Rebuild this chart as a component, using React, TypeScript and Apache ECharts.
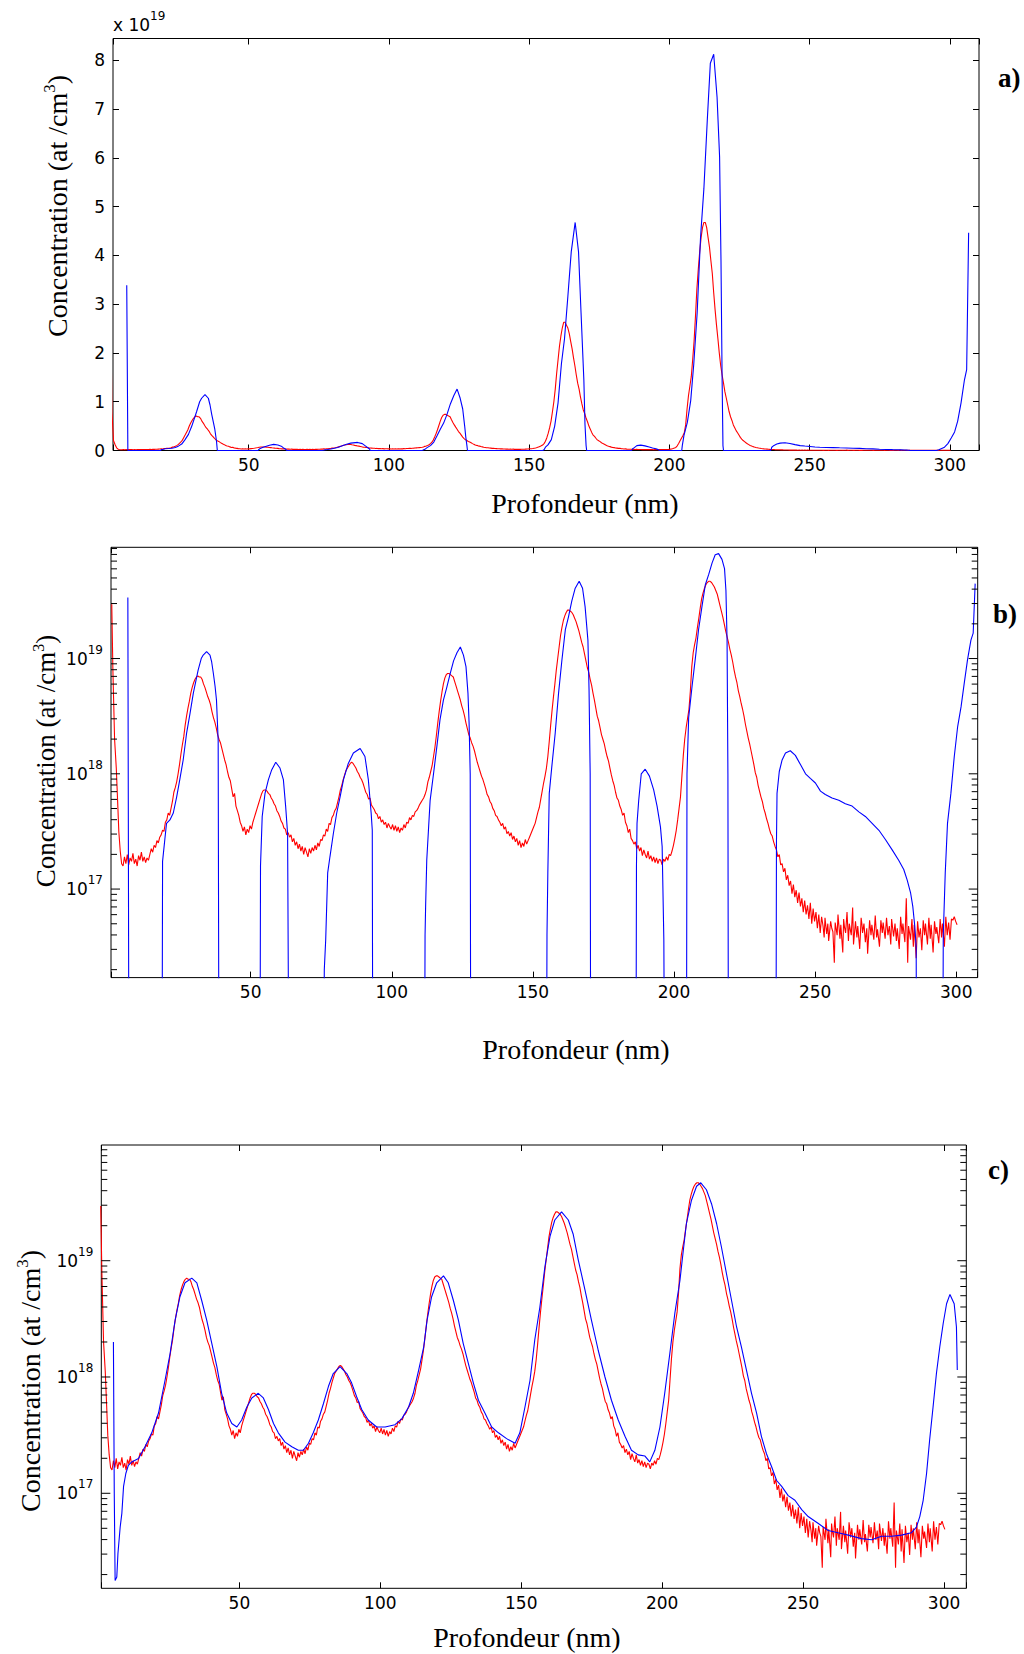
import React, { useEffect, useRef } from 'react';
import * as echarts from 'echarts';

// ---------------- DATA (depth in nm, log10 of concentration in at/cm3) ----------------
// Measured SIMS profile (red) — shared by panels a, b, c
const redProfile: number[][] = [
  [0.8,19.47],[1.2,18.90],[1.8,18.30],[2.4,18.05],[2.9,17.75],[3.3,17.50],[3.8,17.33],[4.3,17.22],
  [4.8,17.20],[5.3,17.28],[5.8,17.22],[6.3,17.30],[6.8,17.21],[7.3,17.27],[7.8,17.24],[8.3,17.31],[8.8,17.22],[9.3,17.26],[9.8,17.20],[10.3,17.29],[10.8,17.25],[11.3,17.32],[11.8,17.24],[12.3,17.28],[12.8,17.23],[13.3,17.27],[13.8,17.25],[14.3,17.30],[14.8,17.35],[15.3,17.32],[15.8,17.38],[16.3,17.36],[16.8,17.42],[17.3,17.40],[17.8,17.45],[18.3,17.47],[18.8,17.51],[19.3,17.50],[19.8,17.58],[20.3,17.60],[20.8,17.66],[21.3,17.64],[21.8,17.70],[22.3,17.76],[22.8,17.84],[23.3,17.88],[23.8,17.93],[24.3,18.00],[24.8,18.08],[25.3,18.17],[25.8,18.25],[26.3,18.32],[26.8,18.42],[27.3,18.50],[27.8,18.57],[28.3,18.63],[28.8,18.70],[29.3,18.75],[29.8,18.79],[30.3,18.82],[30.8,18.84],[31.3,18.85],[31.8,18.84],[32.3,18.84],[32.8,18.82],[33.3,18.78],[33.8,18.75],[34.3,18.71],[34.8,18.67],[35.3,18.64],[35.8,18.60],[36.3,18.54],[36.8,18.49],[37.3,18.45],[37.8,18.40],[38.3,18.34],[38.8,18.30],[39.3,18.27],[39.8,18.22],[40.3,18.17],[40.8,18.12],[41.3,18.08],[41.8,18.02],[42.3,17.97],[42.8,17.94],[43.3,17.87],[43.8,17.80],[44.3,17.83],[44.8,17.72],[45.3,17.68],[45.8,17.64],[46.3,17.58],[46.8,17.55],[47.3,17.50],[47.8,17.54],[48.3,17.47],[48.8,17.52],[49.3,17.49],[49.8,17.55],[50.3,17.52],[50.8,17.58],[51.3,17.62],[51.8,17.66],[52.3,17.70],[52.8,17.74],[53.3,17.78],[53.8,17.82],[54.3,17.85],[54.8,17.86],[55.3,17.86],[55.8,17.85],[56.3,17.83],[56.8,17.82],[57.3,17.79],[57.8,17.77],[58.3,17.74],[58.8,17.72],[59.3,17.68],[59.8,17.66],[60.3,17.63],[60.8,17.59],[61.3,17.57],[61.8,17.53],[62.3,17.52],[62.8,17.47],[63.3,17.49],[63.8,17.45],[64.3,17.47],[64.8,17.41],[65.3,17.44],[65.8,17.38],[66.3,17.41],[66.8,17.35],[67.3,17.39],[67.8,17.33],[68.3,17.37],[68.8,17.30],[69.3,17.36],[69.8,17.32],[70.3,17.28],[70.8,17.35],[71.3,17.31],[71.8,17.36],[72.3,17.33],[72.8,17.38],[73.3,17.34],[73.8,17.40],[74.3,17.37],[74.8,17.43],[75.3,17.42],[75.8,17.47],[76.3,17.46],[76.8,17.52],[77.3,17.50],[77.8,17.57],[78.3,17.56],[78.8,17.62],[79.3,17.64],[79.8,17.68],[80.3,17.70],[80.8,17.75],[81.3,17.80],[81.8,17.86],[82.3,17.90],[82.8,17.95],[83.3,17.99],[83.8,18.03],[84.3,18.05],[84.8,18.07],[85.3,18.09],[85.8,18.10],[86.3,18.09],[86.8,18.07],[87.3,18.05],[87.8,18.02],[88.3,18.00],[88.8,17.97],[89.3,17.95],[89.8,17.92],[90.3,17.88],[90.8,17.84],[91.3,17.82],[91.8,17.78],[92.3,17.79],[92.8,17.73],[93.3,17.71],[93.8,17.69],[94.3,17.66],[94.8,17.65],[95.3,17.61],[95.8,17.63],[96.3,17.58],[96.8,17.60],[97.3,17.56],[97.8,17.58],[98.3,17.53],[98.8,17.57],[99.3,17.54],[99.8,17.52],[100.3,17.56],[100.8,17.51],[101.3,17.55],[101.8,17.50],[102.3,17.54],[102.8,17.49],[103.3,17.53],[103.8,17.51],[104.3,17.56],[104.8,17.53],[105.3,17.58],[105.8,17.57],[106.3,17.62],[106.8,17.60],[107.3,17.64],[107.8,17.63],[108.3,17.67],[108.8,17.68],[109.3,17.70],[109.8,17.73],[110.3,17.75],[110.8,17.77],[111.3,17.79],[111.8,17.82],[112.3,17.86],[112.8,17.93],[113.3,17.97],[113.8,18.02],[114.3,18.07],[114.8,18.15],[115.3,18.23],[115.8,18.33],[116.3,18.44],[116.8,18.54],[117.3,18.63],[117.8,18.71],[118.3,18.78],[118.8,18.83],[119.3,18.86],[119.8,18.87],[120.3,18.87],[120.8,18.86],[121.3,18.85],[121.8,18.84],[122.3,18.80],[122.8,18.76],[123.3,18.72],[123.8,18.68],[124.3,18.64],[124.8,18.59],[125.3,18.55],[125.8,18.50],[126.3,18.44],[126.8,18.39],[127.3,18.34],[127.8,18.31],[128.3,18.27],[128.8,18.24],[129.3,18.20],[129.8,18.15],[130.3,18.10],[130.8,18.06],[131.3,18.02],[131.8,17.98],[132.3,17.95],[132.8,17.91],[133.3,17.87],[133.8,17.82],[134.3,17.80],[134.8,17.76],[135.3,17.74],[135.8,17.70],[136.3,17.68],[136.8,17.64],[137.3,17.63],[137.8,17.60],[138.3,17.58],[138.8,17.55],[139.3,17.57],[139.8,17.52],[140.3,17.54],[140.8,17.48],[141.3,17.50],[141.8,17.46],[142.3,17.49],[142.8,17.43],[143.3,17.46],[143.8,17.41],[144.3,17.44],[144.8,17.38],[145.3,17.42],[145.8,17.36],[146.3,17.40],[146.8,17.37],[147.3,17.43],[147.8,17.39],[148.3,17.42],[148.8,17.45],[149.3,17.48],[149.8,17.51],[150.3,17.54],[150.8,17.57],[151.3,17.62],[151.8,17.67],[152.3,17.71],[152.8,17.78],[153.3,17.85],[153.8,17.92],[154.3,17.98],[154.8,18.05],[155.3,18.15],[155.8,18.28],[156.3,18.42],[156.8,18.55],[157.3,18.67],[157.8,18.78],[158.3,18.90],[158.8,19.00],[159.3,19.10],[159.8,19.20],[160.3,19.27],[160.8,19.33],[161.3,19.37],[161.8,19.40],[162.3,19.42],[162.8,19.42],[163.3,19.41],[163.8,19.40],[164.3,19.38],[164.8,19.35],[165.3,19.32],[165.8,19.28],[166.3,19.24],[166.8,19.19],[167.3,19.14],[167.8,19.10],[168.3,19.04],[168.8,18.98],[169.3,18.92],[169.8,18.88],[170.3,18.82],[170.8,18.77],[171.3,18.70],[171.8,18.64],[172.3,18.57],[172.8,18.50],[173.3,18.46],[173.8,18.40],[174.3,18.34],[174.8,18.30],[175.3,18.26],[175.8,18.20],[176.3,18.15],[176.8,18.11],[177.3,18.05],[177.8,17.99],[178.3,17.94],[178.8,17.90],[179.3,17.84],[179.8,17.79],[180.3,17.77],[180.8,17.72],[181.3,17.69],[181.8,17.64],[182.3,17.66],[182.8,17.58],[183.3,17.55],[183.8,17.49],[184.3,17.52],[184.8,17.44],[185.3,17.42],[185.8,17.39],[186.3,17.41],[186.8,17.35],[187.3,17.38],[187.8,17.33],[188.3,17.36],[188.8,17.29],[189.3,17.34],[189.8,17.30],[190.3,17.27],[190.8,17.33],[191.3,17.26],[191.8,17.29],[192.3,17.24],[192.8,17.28],[193.3,17.23],[193.8,17.27],[194.3,17.22],[194.8,17.26],[195.3,17.25],[195.8,17.21],[196.3,17.26],[196.8,17.24],[197.3,17.28],[197.8,17.25],[198.3,17.30],[198.8,17.29],[199.3,17.33],[199.8,17.38],[200.3,17.44],[200.8,17.51],[201.3,17.60],[201.8,17.70],[202.3,17.80],[202.8,17.98],[203.3,18.16],[203.8,18.30],[204.3,18.40],[204.8,18.48],[205.3,18.56],[205.8,18.72],[206.3,18.93],[206.8,19.05],[207.3,19.12],[207.8,19.18],[208.3,19.27],[208.8,19.35],[209.3,19.44],[209.8,19.52],[210.3,19.57],[210.8,19.61],[211.3,19.64],[211.8,19.66],[212.3,19.67],[212.8,19.67],[213.3,19.66],[213.8,19.64],[214.3,19.62],[214.8,19.59],[215.3,19.56],[215.8,19.51],[216.3,19.46],[216.8,19.41],[217.3,19.36],[217.8,19.30],[218.3,19.24],[218.8,19.19],[219.3,19.14],[219.8,19.08],[220.3,19.03],[220.8,18.97],[221.3,18.90],[221.8,18.84],[222.3,18.79],[222.8,18.72],[223.3,18.67],[223.8,18.61],[224.3,18.56],[224.8,18.50],[225.3,18.43],[225.8,18.37],[226.3,18.31],[226.8,18.26],[227.3,18.20],[227.8,18.14],[228.3,18.08],[228.8,18.01],[229.3,17.97],[229.8,17.90],[230.3,17.85],[230.8,17.80],[231.3,17.76],[231.8,17.70],[232.3,17.66],[232.8,17.61],[233.3,17.57],[233.8,17.52],[234.3,17.48],[234.8,17.46],[235.3,17.41],[235.8,17.37],[236.3,17.34],[236.8,17.28],[237.3,17.30],[237.8,17.21],[238.3,17.22],[238.8,17.15],[239.3,17.18],[239.8,17.08],[240.3,17.12],[240.8,17.03],[241.3,17.07],[241.8,16.96],[242.3,17.04],[242.8,16.93],[243.3,16.99],[243.8,16.88],[244.3,16.97],[244.8,16.85],[245.3,16.92],[245.8,16.80],[246.3,16.90],[246.8,16.78],[247.3,16.86],[247.8,16.74],[248.3,16.88],[248.8,16.70],[249.3,16.83],[249.8,16.72],[250.3,16.80],[250.8,16.66],[251.3,16.78],[251.8,16.62],[252.3,16.76],
  [252.8,16.68],[253.2,16.58],[253.5,16.75],[254.1,16.61],[254.5,16.70],[254.8,16.55],[255.5,16.72],[255.9,16.66],[256.3,16.63],[256.8,16.36],[257.1,16.71],[257.8,16.60],[258.1,16.78],[258.8,16.57],[259.1,16.69],[259.8,16.45],[260.1,16.74],[260.4,16.67],[260.8,16.62],[261.3,16.80],[261.8,16.55],[262.1,16.70],[262.8,16.60],[263.3,16.84],[263.6,16.52],[264.3,16.72],[264.8,16.58],[265.1,16.68],[265.8,16.48],[266.3,16.75],[266.6,16.69],[266.8,16.62],[267.3,16.70],[267.8,16.54],[268.3,16.66],[268.6,16.44],[269.3,16.73],[269.8,16.60],[270.1,16.69],[270.8,16.56],[271.3,16.77],[271.8,16.58],[272.1,16.65],[272.8,16.50],[273.3,16.73],[273.8,16.62],[274.1,16.71],[274.8,16.57],[275.3,16.75],[275.6,16.66],[275.8,16.60],[276.3,16.68],[276.8,16.52],[277.1,16.74],[277.8,16.59],[278.3,16.70],[278.8,16.55],[279.1,16.66],[279.8,16.48],[280.3,16.76],[280.8,16.61],[281.1,16.70],[281.8,16.54],[282.3,16.92],[282.8,16.36],[283.1,16.68],[283.8,16.56],[284.3,16.74],[284.8,16.50],[285.1,16.69],[285.8,16.40],[286.3,16.72],[286.6,16.64],[286.8,16.58],[287.3,16.66],[287.8,16.47],[288.3,16.73],[288.8,16.60],[289.1,16.70],[289.8,16.52],[290.3,16.75],[290.8,16.57],[291.1,16.69],[291.8,16.45],[292.3,16.72],[292.8,16.61],[293.1,16.67],[293.8,16.53],[294.3,16.74],[294.8,16.58],[295.1,16.70],[295.8,16.50],[296.3,16.76],[296.8,16.60],[297.3,16.71],[297.8,16.56],[298.3,16.74],[298.8,16.73],[299.3,16.76],[299.8,16.72],[300.3,16.69],
];

// Deconvolved profile (blue, panels a and b); 15 = zero level (1e15, below the log axis)
const blueDeconvolved: number[][] = [
  [6.5,19.53],[6.9,15],[18.6,15],[18.8,17.24],[19.6,17.43],[20.2,17.57],[21.4,17.60],[22.6,17.66],[23.8,17.80],[24.9,17.95],[26.1,18.12],[27.3,18.35],[28.5,18.52],[29.7,18.70],[31.4,18.90],[32.5,19.00],[33.2,19.03],[34.4,19.06],[35.6,19.03],[36.2,18.97],[36.8,18.87],[37.4,18.76],[37.9,18.64],[38.5,18.29],[38.8,15],
  [53.3,15],[53.5,17.2],[54.1,17.63],[55.1,17.83],[56.3,17.95],[57.4,18.03],[58.9,18.10],[60.4,18.05],[61.6,17.95],[62.4,17.72],[63.1,17.48],[63.6,15],
  [75.9,15],[76.1,16.3],[76.6,16.56],[77.3,17.14],[78.1,17.28],[79.3,17.48],[80.5,17.66],[81.7,17.80],[82.9,17.95],[84.6,18.09],[86.4,18.18],[88.8,18.22],[90.5,18.15],[91.7,17.95],[92.7,17.66],[93.1,17.51],[93.3,15],
  [111.6,15],[111.8,16.6],[112.0,16.85],[112.4,17.25],[113.0,17.51],[113.6,17.77],[114.8,18.00],[116.0,18.24],[117.1,18.47],[118.3,18.64],[119.5,18.75],[120.7,18.87],[121.9,18.98],[123.1,19.05],[124.3,19.10],[125.4,19.03],[126.3,18.93],[127.0,18.70],[127.4,18.44],[127.8,18.00],[128.0,15],
  [154.8,15],[155.0,16.6],[155.3,17.14],[155.8,17.83],[156.7,18.06],[157.9,18.35],[159.1,18.70],[160.3,18.99],[161.5,19.25],[162.6,19.36],[163.8,19.50],[165.0,19.61],[166.4,19.67],[167.6,19.61],[168.5,19.45],[169.5,19.16],[169.9,18.73],[170.3,18.00],[170.5,15],
  [186.5,15],[186.7,17.2],[186.9,17.57],[187.5,17.77],[188.4,18.00],[189.8,18.04],[191.3,17.98],[192.8,17.86],[194.0,17.72],[195.2,17.54],[195.8,17.37],[196.4,16.56],[196.7,15],
  [204.4,15],[204.6,18.0],[205.2,18.49],[206.4,18.76],[207.6,19.01],[208.7,19.25],[209.9,19.45],[211.1,19.64],[212.3,19.73],[213.5,19.83],[214.6,19.90],[215.8,19.91],[217.0,19.86],[217.9,19.78],[218.4,19.59],[218.8,19.16],[219.1,18.00],[219.3,15],
  [236.1,15],[236.3,17.4],[236.5,17.83],[237.3,18.02],[238.3,18.12],[239.5,18.18],[241.2,18.20],[243.0,18.16],[244.8,18.08],[246.6,18.00],[248.3,17.96],[250.1,17.92],[251.9,17.85],[253.6,17.82],[256.0,17.79],[258.4,17.77],[260.7,17.74],[263.1,17.72],[265.5,17.67],[267.8,17.63],[270.2,17.57],[272.6,17.51],[274.9,17.43],[277.3,17.34],[279.6,17.25],[281.4,17.17],[282.6,17.08],[283.8,16.97],[284.6,16.85],[285.3,16.68],[285.8,16.50],[286.0,15],
  [295.2,15],[295.4,16.6],[296.1,17.14],[296.9,17.57],[298.1,17.83],[299.3,18.15],[300.5,18.41],[301.7,18.58],[302.8,18.78],[304.0,18.99],[305.2,19.16],[306.0,19.22],[306.7,19.65],
];

// Reconvolved profile (blue, panel c)
const blueReconvolved: number[][] = [
  [5.3,18.30],[5.6,17.0],[5.9,16.25],[6.5,16.28],[6.9,16.48],[7.7,16.71],[8.3,16.83],[8.9,17.06],[9.7,17.17],[10.6,17.24],[11.8,17.27],[14.2,17.30],[16.5,17.40],[18.9,17.52],[21.3,17.69],[23.6,17.97],[25.4,18.20],[27.2,18.49],[28.9,18.69],[30.7,18.81],[33.1,18.85],[34.9,18.81],[36.6,18.66],[38.4,18.49],[40.2,18.29],[42.0,18.09],[43.7,17.86],[45.5,17.69],[47.3,17.60],[49.1,17.57],[50.8,17.63],[52.6,17.74],[54.4,17.82],[56.7,17.86],[58.5,17.82],[60.3,17.72],[62.1,17.60],[63.8,17.52],[66.2,17.44],[68.6,17.40],[70.9,17.37],[72.7,17.37],[74.5,17.43],[76.2,17.52],[78.0,17.63],[79.8,17.77],[81.6,17.92],[83.3,18.03],[85.7,18.09],[88.1,18.03],[89.8,17.95],[91.6,17.83],[93.4,17.72],[95.7,17.63],[98.7,17.57],[101.7,17.57],[105.2,17.59],[107.6,17.64],[110.0,17.74],[111.7,17.86],[113.6,18.06],[115.4,18.26],[116.6,18.49],[118.2,18.69],[120.0,18.81],[122.4,18.87],[124.1,18.81],[125.9,18.66],[127.7,18.49],[129.4,18.29],[131.2,18.12],[133.0,17.95],[134.8,17.80],[137.1,17.69],[139.5,17.57],[141.9,17.52],[144.8,17.47],[147.8,17.43],[149.5,17.52],[151.3,17.74],[153.1,17.97],[154.8,18.32],[156.6,18.60],[158.4,18.95],[160.2,19.21],[161.9,19.35],[164.3,19.42],[166.7,19.35],[168.4,19.23],[170.2,19.01],[172.6,18.75],[174.9,18.49],[177.3,18.23],[179.7,18.00],[182.0,17.80],[184.4,17.63],[186.8,17.49],[189.1,17.37],[191.5,17.33],[193.9,17.32],[195.6,17.27],[197.4,17.37],[199.2,17.57],[200.9,17.86],[202.7,18.20],[204.5,18.55],[206.3,18.83],[207.5,19.09],[208.6,19.32],[210.4,19.52],[212.2,19.64],[213.7,19.67],[215.7,19.61],[217.5,19.49],[219.3,19.32],[221.0,19.12],[222.8,18.89],[224.6,18.66],[226.4,18.43],[228.1,18.26],[229.9,18.06],[231.7,17.86],[233.5,17.69],[235.2,17.49],[237.0,17.34],[238.8,17.23],[240.6,17.11],[242.4,17.06],[244.7,16.98],[247.1,16.94],[249.5,16.86],[251.8,16.80],[255.4,16.74],[258.9,16.68],[262.4,16.66],[266.0,16.64],[270.7,16.61],[274.3,16.60],[277.8,16.63],[281.4,16.63],[284.9,16.64],[288.4,16.66],[290.2,16.71],[291.4,16.80],[292.6,16.94],[293.8,17.17],[294.9,17.46],[296.1,17.74],[297.3,18.03],[298.5,18.26],[299.7,18.46],[300.9,18.63],[302.1,18.71],[303.6,18.63],[304.4,18.43],[304.7,18.06],
];

// Axis ranges and tick labels
const depthRangeA = [1.6, 310.4];
const depthRangeB = [0.53, 307.6];
const depthRangeC = [1.0, 307.9];
const concRangeA = [0, 8.45e19];
const logRangeB = [16.232, 19.965];
const logRangeC = [16.183, 19.995];
const depthTickLabels = [50, 100, 150, 200, 250, 300];
const linearTickLabels = [0, 1, 2, 3, 4, 5, 6, 7, 8];
const logLabelExponents = [17, 18, 19];
const logTickMantissas = [1, 2, 3, 4, 5, 6, 7, 8, 9];
const logTickDecades = [16, 17, 18, 19];

const panelTexts = ['a)', 'b)', 'c)'];
const xTitle = 'Profondeur (nm)';
const yTitle = 'Concentration (at /cm{s|3})';

// ---------------- STYLE ----------------
const SERIF = '"Liberation Serif", "Times New Roman", serif';
const SANS = '"DejaVu Sans", sans-serif';
const RED = '#ff0000';
const BLUE = '#0000ff';

const toConc = (pts: number[][]) => pts.map(([d, l]) => [d, Math.pow(10, l)]);

const depthFormatter = (v: number) =>
  depthTickLabels.some((t) => Math.abs(t - v) < 1e-6) ? String(Math.round(v)) : '';
const linearFormatter = (v: number) => {
  const n = v / 1e19;
  return linearTickLabels.some((t) => Math.abs(t - n) < 1e-6) ? String(Math.round(n)) : '';
};
const logFormatter = (v: number) => {
  const e = Math.log10(v);
  const r = Math.round(e);
  return Math.abs(e - r) < 1e-6 && logLabelExponents.includes(r) ? `{b|10}{s|${r}}` : '';
};

const tickLabelStyle = { fontFamily: SANS, fontSize: 17, color: '#000', fontWeight: 500 };
const supRich = {
  b: { fontFamily: SANS, fontSize: 17, color: '#000' },
  s: { fontFamily: SANS, fontSize: 12, color: '#000', padding: [0, 0, 18, 0] },
};

function xAxesFor(grid: number, range: number[]) {
  const base = {
    gridIndex: grid,
    type: 'value',
    min: range[0],
    max: range[1],
    splitLine: { show: false },
    axisLine: { show: false, onZero: false },
    axisTick: { show: true, inside: true, length: 6, lineStyle: { color: '#000', width: 1 } },
  };
  return [
    { ...base, position: 'bottom', axisLabel: { ...tickLabelStyle, margin: 6, formatter: depthFormatter } },
    { ...base, position: 'top', axisLabel: { show: false } },
  ];
}

function logTickSeries(xAxisIndex: number, yAxisIndex: number, xMin: number, logRange: number[]) {
  const data: number[][] = [];
  for (const e of logTickDecades) {
    for (const m of logTickMantissas) {
      const l = e + Math.log10(m);
      if (l >= logRange[0] && l <= logRange[1]) data.push([xMin, m * Math.pow(10, e), m === 1 ? 1 : 0]);
    }
  }
  return {
    type: 'custom',
    xAxisIndex,
    yAxisIndex,
    silent: true,
    clip: false,
    z: 5,
    data,
    renderItem: (params: any, api: any) => {
      const cs = params.coordSys;
      const y = api.coord([api.value(0), api.value(1)])[1];
      const len = api.value(2) ? 9 : 6;
      const st = { stroke: '#000', lineWidth: 1 };
      return {
        type: 'group',
        children: [
          { type: 'line', shape: { x1: cs.x, y1: y, x2: cs.x + len, y2: y }, style: st },
          { type: 'line', shape: { x1: cs.x + cs.width - len, y1: y, x2: cs.x + cs.width, y2: y }, style: st },
        ],
      };
    },
  };
}

function lineSeries(name: string, data: number[][], color: string, xi: number, yi: number, z: number) {
  return {
    name,
    type: 'line',
    xAxisIndex: xi,
    yAxisIndex: yi,
    data,
    showSymbol: false,
    symbol: 'none',
    clip: true,
    z,
    lineStyle: { color, width: 1.1 },
    itemStyle: { color },
  };
}

function yTitleText(x: number, y: number, size: number) {
  return {
    type: 'text',
    x,
    y,
    rotation: Math.PI / 2,
    silent: true,
    style: {
      text: yTitle,
      fontFamily: SERIF,
      fontSize: size,
      fill: '#000',
      align: 'center',
      verticalAlign: 'middle',
      rich: {
        s: { fontFamily: SERIF, fontSize: Math.round(size * 0.6), fill: '#000', padding: [0, 0, Math.round(size * 0.55), 0] },
      },
    },
  };
}

function plainText(text: string, x: number, y: number, size: number, bold = false, align = 'center') {
  return {
    type: 'text',
    x,
    y,
    silent: true,
    style: {
      text,
      fontFamily: SERIF,
      fontSize: size,
      fontWeight: bold ? 'bold' : 'normal',
      fill: '#000',
      align,
      verticalAlign: 'middle',
    },
  };
}

function buildOption() {
  const gridBorder = { show: true, borderColor: '#000', borderWidth: 1, backgroundColor: 'transparent' };
  return {
    animation: false,
    backgroundColor: '#fff',
    grid: [
      { ...gridBorder, left: 113, top: 38.5, width: 866, height: 412, outerBoundsMode: 'none', containLabel: false },
      { ...gridBorder, left: 111, top: 547.3, width: 866.7, height: 430.3, outerBoundsMode: 'none', containLabel: false },
      { ...gridBorder, left: 101.3, top: 1145, width: 865, height: 443.3, outerBoundsMode: 'none', containLabel: false },
    ],
    xAxis: [...xAxesFor(0, depthRangeA), ...xAxesFor(1, depthRangeB), ...xAxesFor(2, depthRangeC)],
    yAxis: [
      {
        gridIndex: 0, type: 'value', position: 'left', min: concRangeA[0], max: concRangeA[1], interval: 1e19,
        splitLine: { show: false }, axisLine: { show: false },
        axisTick: { inside: true, length: 6, lineStyle: { color: '#000', width: 1 } },
        axisLabel: { ...tickLabelStyle, margin: 8, formatter: linearFormatter },
      },
      {
        gridIndex: 0, type: 'value', position: 'right', min: concRangeA[0], max: concRangeA[1], interval: 1e19,
        splitLine: { show: false }, axisLine: { show: false },
        axisTick: { inside: true, length: 6, lineStyle: { color: '#000', width: 1 } },
        axisLabel: { show: false },
      },
      {
        gridIndex: 1, type: 'log', logBase: 10, position: 'left',
        min: Math.pow(10, logRangeB[0]), max: Math.pow(10, logRangeB[1]),
        splitLine: { show: false }, axisLine: { show: false }, axisTick: { show: false }, minorTick: { show: false },
        axisLabel: { ...tickLabelStyle, margin: 8, formatter: logFormatter, rich: supRich },
      },
      {
        gridIndex: 2, type: 'log', logBase: 10, position: 'left',
        min: Math.pow(10, logRangeC[0]), max: Math.pow(10, logRangeC[1]),
        splitLine: { show: false }, axisLine: { show: false }, axisTick: { show: false }, minorTick: { show: false },
        axisLabel: { ...tickLabelStyle, margin: 8, formatter: logFormatter, rich: supRich },
      },
    ],
    series: [
      lineSeries('Mesuré (a)', toConc(redProfile), RED, 0, 0, 2),
      lineSeries('Déconvolué (a)', toConc(blueDeconvolved), BLUE, 0, 0, 3),
      lineSeries('Mesuré (b)', toConc(redProfile), RED, 2, 2, 2),
      lineSeries('Déconvolué (b)', toConc(blueDeconvolved), BLUE, 2, 2, 3),
      lineSeries('Mesuré (c)', toConc(redProfile), RED, 4, 3, 2),
      lineSeries('Reconvolué (c)', toConc(blueReconvolved), BLUE, 4, 3, 3),
      logTickSeries(2, 2, depthRangeB[0], logRangeB),
      logTickSeries(4, 3, depthRangeC[0], logRangeC),
    ],
    graphic: [
      {
        type: 'text', x: 113, y: 25, silent: true,
        style: { text: '{b|x 10}{s|19}', rich: supRich, fontFamily: SANS, fontSize: 17, fill: '#000', align: 'left', verticalAlign: 'middle' },
      },
      yTitleText(57, 206, 28),
      yTitleText(46, 761, 27),
      yTitleText(30, 1381, 28),
      plainText(xTitle, 585, 503, 28),
      plainText(xTitle, 576, 1049, 28),
      plainText(xTitle, 527, 1637, 28),
      plainText(panelTexts[0], 998, 78, 27, true, 'left'),
      plainText(panelTexts[1], 993, 614, 27, true, 'left'),
      plainText(panelTexts[2], 988, 1170, 27, true, 'left'),
    ],
  };
}

export default function App() {
  const ref = useRef<HTMLDivElement>(null);
  useEffect(() => {
    document.body.style.margin = '0';
    const chart = echarts.init(ref.current as HTMLDivElement, null, { renderer: 'svg' });
    chart.setOption(buildOption() as any);
    return () => chart.dispose();
  }, []);
  return <div ref={ref} style={{ width: 1024, height: 1654 }} />;
}
